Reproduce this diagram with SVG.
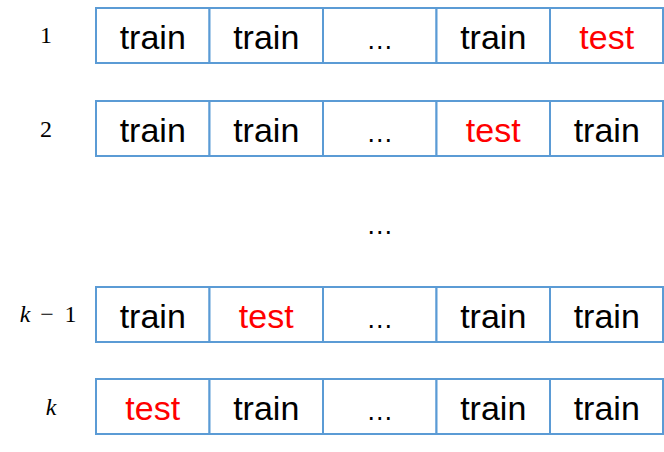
<svg xmlns="http://www.w3.org/2000/svg" width="664" height="452" viewBox="0 0 664 452">
<style>
.cell{fill:#fff;stroke:#5B9BD5;stroke-width:2}
.t{font-family:"Liberation Sans",Arial,sans-serif;font-size:34px;text-anchor:middle;fill:#000}
.e{font-size:27px}
.r{fill:#FF0000}
.lab{font-family:"Liberation Serif","Times New Roman",serif;font-size:24px;text-anchor:middle;fill:#000}
.it{font-style:italic}
</style>
<rect width="664" height="452" fill="#fff"/>
<defs>
<g id="cells">
<rect class="cell" x="96" y="0" width="113.5" height="55"/>
<rect class="cell" x="209.5" y="0" width="113.5" height="55"/>
<rect class="cell" x="323" y="0" width="113.5" height="55"/>
<rect class="cell" x="436.5" y="0" width="113.5" height="55"/>
<rect class="cell" x="550" y="0" width="113" height="55"/>
</g>
</defs>
<g id="row1">
<use href="#cells" y="8"/>
<text class="lab" x="46" y="43">1</text>
<text class="t" x="152.75" y="48.5">train</text>
<text class="t" x="266.25" y="48.5">train</text>
<text class="t e" x="379.75" y="48.5">…</text>
<text class="t" x="493.25" y="48.5">train</text>
<text class="t r" x="606.75" y="48.5">test</text>
</g>
<g id="row2">
<use href="#cells" y="101"/>
<text class="lab" x="46" y="136.5">2</text>
<text class="t" x="152.75" y="141.5">train</text>
<text class="t" x="266.25" y="141.5">train</text>
<text class="t e" x="379.75" y="141.5">…</text>
<text class="t r" x="493.25" y="141.5">test</text>
<text class="t" x="606.75" y="141.5">train</text>
</g>
<g id="gap">
<text class="t e" x="379.75" y="234">…</text>
</g>
<g id="rowk1">
<use href="#cells" y="287"/>
<text class="lab" y="322"><tspan class="it" x="25">k</tspan><tspan x="47">−</tspan><tspan x="70.5">1</tspan></text>
<text class="t" x="152.75" y="327.5">train</text>
<text class="t r" x="266.25" y="327.5">test</text>
<text class="t e" x="379.75" y="327.5">…</text>
<text class="t" x="493.25" y="327.5">train</text>
<text class="t" x="606.75" y="327.5">train</text>
</g>
<g id="rowk">
<use href="#cells" y="379"/>
<text class="lab it" x="51" y="415">k</text>
<text class="t r" x="152.75" y="420">test</text>
<text class="t" x="266.25" y="420">train</text>
<text class="t e" x="379.75" y="420">…</text>
<text class="t" x="493.25" y="420">train</text>
<text class="t" x="606.75" y="420">train</text>
</g>
<g id="connectors"/>
</svg>
